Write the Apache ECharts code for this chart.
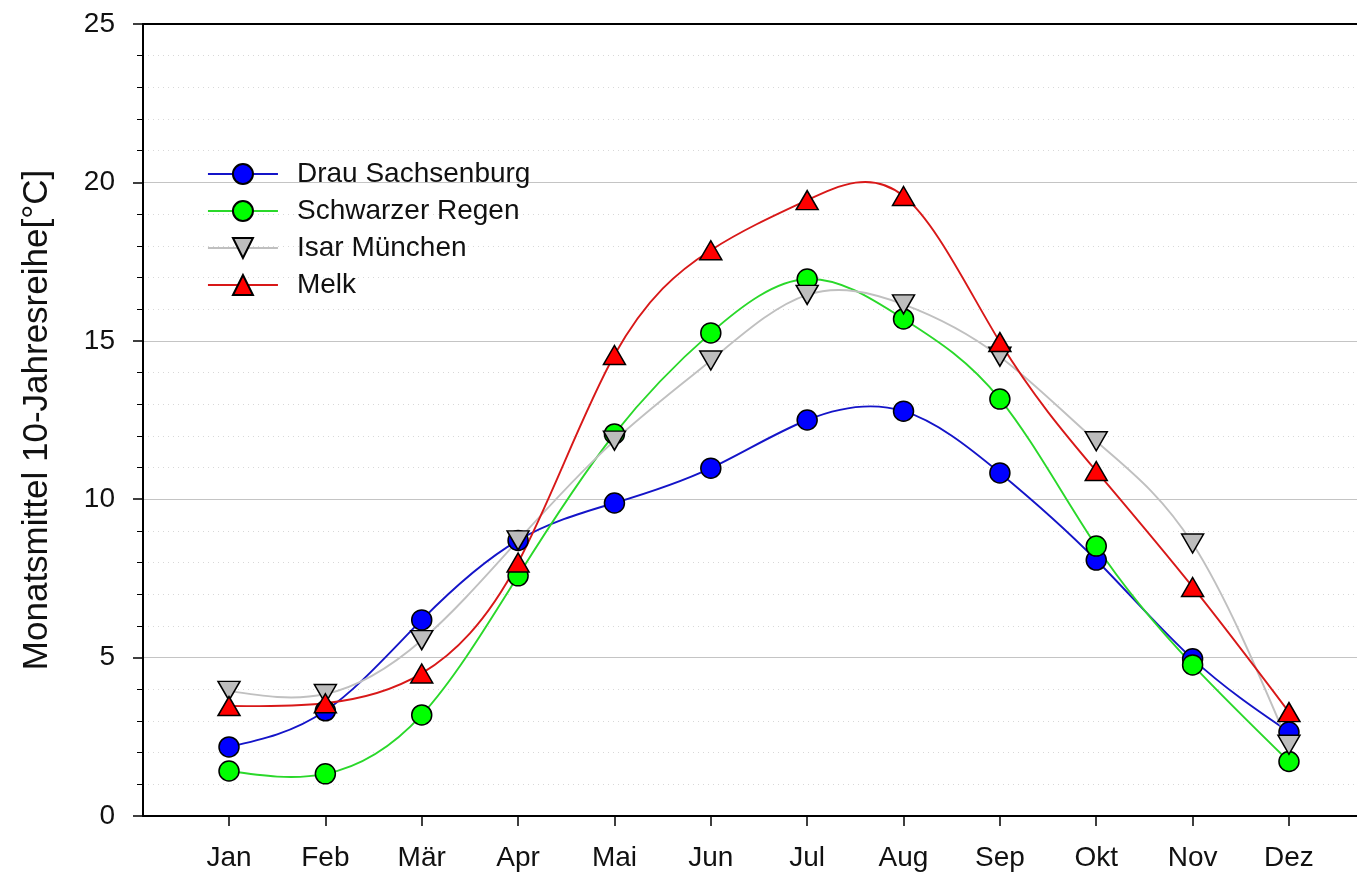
<!DOCTYPE html>
<html>
<head>
<meta charset="utf-8">
<script src="https://cdn.jsdelivr.net/npm/echarts@6/dist/echarts.min.js"></script>
<style>
html,body{margin:0;padding:0;background:#fff;}
#chart{width:1357px;height:879px;}
</style>
</head>
<body>
<div id="chart"></div>
<script>
const months = ['Jan','Feb','Mär','Apr','Mai','Jun','Jul','Aug','Sep','Okt','Nov','Dez'];
const drau = [2.18, 3.32, 6.19, 8.7, 9.88, 10.98, 12.5, 12.78, 10.83, 8.08, 4.96, 2.65];
const schwarzerRegen = [1.42, 1.33, 3.19, 7.58, 12.06, 15.25, 16.95, 15.69, 13.16, 8.52, 4.77, 1.72];
const isar = [3.95, 3.85, 5.55, 8.7, 11.85, 14.38, 16.45, 16.15, 14.5, 11.83, 8.6, 2.25];
const melk = [3.47, 3.56, 4.5, 8.0, 14.55, 17.86, 19.44, 19.57, 14.96, 10.89, 7.23, 3.28];
const monthPos = months.map((m, i) => i + 1);

function pairs(arr){ return arr.map((v, i) => [monthPos[i], v]); }

// natural cubic spline through the data, expressed as Bezier segments (in data space)
function splinePath(ys, api){
  const n = ys.length, M = new Array(n).fill(0);
  const a = [], b = [], c = [], d = [];
  for (let i = 1; i < n - 1; i++){ a.push(1); b.push(4); c.push(1); d.push(6 * (ys[i+1] - 2*ys[i] + ys[i-1])); }
  const m = b.length;
  for (let i = 1; i < m; i++){ const w = a[i] / b[i-1]; b[i] -= w * c[i-1]; d[i] -= w * d[i-1]; }
  const sol = new Array(m);
  sol[m-1] = d[m-1] / b[m-1];
  for (let i = m - 2; i >= 0; i--) sol[i] = (d[i] - c[i] * sol[i+1]) / b[i];
  for (let i = 0; i < m; i++) M[i+1] = sol[i];
  const s = [];
  for (let i = 0; i < n - 1; i++) s.push((ys[i+1] - ys[i]) - (2*M[i] + M[i+1]) / 6);
  s.push((ys[n-1] - ys[n-2]) + (M[n-2] + 2*M[n-1]) / 6);
  let p0 = api.coord([monthPos[0], ys[0]]);
  let path = 'M' + p0[0] + ' ' + p0[1];
  for (let i = 0; i < n - 1; i++){
    const x0 = monthPos[i], x1 = monthPos[i+1], h = x1 - x0;
    const c1 = api.coord([x0 + h/3, ys[i] + s[i]*h/3]);
    const c2 = api.coord([x1 - h/3, ys[i+1] - s[i+1]*h/3]);
    const e = api.coord([x1, ys[i+1]]);
    path += ' C' + c1[0] + ' ' + c1[1] + ' ' + c2[0] + ' ' + c2[1] + ' ' + e[0] + ' ' + e[1];
  }
  return path;
}

const chart = echarts.init(document.getElementById('chart'));
const FONT = 'Liberation Sans, Arial, sans-serif';
const defs = [
  {name: 'Drau Sachsenburg', data: drau, line: '#1414c8', fill: '#0000ff', symbol: 'circle', size: 20, rot: 0},
  {name: 'Schwarzer Regen', data: schwarzerRegen, line: '#2ad82a', fill: '#00ff00', symbol: 'circle', size: 20, rot: 0},
  {name: 'Isar München', data: isar, line: '#c0c0c0', fill: '#bdbdbd', symbol: 'triangle', size: [22, 19], rot: 180},
  {name: 'Melk', data: melk, line: '#d81818', fill: '#ff0000', symbol: 'triangle', size: [22, 19], rot: 0}
];
const series = [];
defs.forEach(df => {
  series.push({
    name: df.name + ' Kurve', type: 'custom', z: 1, silent: true,
    data: [[monthPos[0], df.data[0]]],
    renderItem: (params, api) => ({
      type: 'path',
      shape: {pathData: splinePath(df.data, api)},
      style: {stroke: df.line, lineWidth: 1.9, fill: null}
    })
  });
});
defs.forEach(df => {
  series.push({
    name: df.name, type: 'line', z: 3, data: pairs(df.data),
    symbol: df.symbol, symbolSize: df.size, symbolRotate: df.rot,
    lineStyle: {color: df.line, width: 1.9, opacity: 0},
    itemStyle: {color: df.fill, borderColor: '#000', borderWidth: 1.5},
    emphasis: {disabled: true}
  });
});

chart.setOption({
  animation: false,
  textStyle: {fontFamily: FONT},
  grid: {left: 143, top: 24, right: 0, bottom: 63},
  legend: {
    orient: 'vertical', left: 202, top: 155,
    itemWidth: 70, itemHeight: 25, itemGap: 9,
    textStyle: {fontSize: 28, color: '#111', fontFamily: FONT, padding: [0,0,0,14]},
    data: defs.map(df => ({name: df.name, lineStyle: {color: df.line, width: 1.9, opacity: 1}}))
  },
  xAxis: [{
    type: 'value', min: 0.1075, max: 12.706,
    axisLine: {show: true, lineStyle: {color: '#000', width: 2}},
    axisTick: {show: true, customValues: monthPos, length: 10, lineStyle: {color: '#000', width: 1.5}},
    axisLabel: {customValues: monthPos, formatter: v => months[Math.round(v) - 1], fontSize: 28, color: '#111', margin: 28, fontFamily: FONT},
    splitLine: {show: false}
  },{
    type: 'value', position: 'top', min: 0.1075, max: 12.706,
    axisLine: {show: true, onZero: false, lineStyle: {color: '#000', width: 2}},
    axisTick: {show: false}, axisLabel: {show: false}, splitLine: {show: false}
  }],
  yAxis: {
    type: 'value', min: 0, max: 25, interval: 5,
    name: 'Monatsmittel 10-Jahresreihe[°C]', nameLocation: 'middle', nameGap: 88,
    nameTextStyle: {fontSize: 35, color: '#111', fontFamily: FONT},
    axisLine: {show: true, lineStyle: {color: '#000', width: 2}},
    axisTick: {show: true, length: 10, lineStyle: {color: '#000', width: 1.5}},
    minorTick: {show: true, splitNumber: 5, length: 6, lineStyle: {color: '#000', width: 1}},
    axisLabel: {fontSize: 28, color: '#111', margin: 28, fontFamily: FONT},
    splitLine: {show: true, lineStyle: {color: '#c4c4c4', width: 1.2}},
    minorSplitLine: {show: true, lineStyle: {color: '#d8d8d8', width: 1, type: [1, 4]}}
  },
  series: series
});
</script>
</body>
</html>
